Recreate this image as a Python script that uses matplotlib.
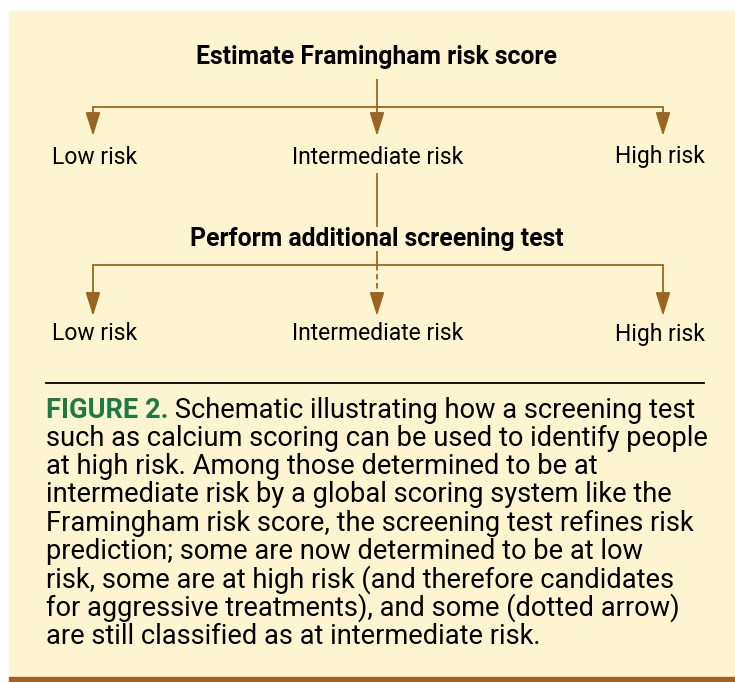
import matplotlib
matplotlib.use("Agg")
import matplotlib.pyplot as plt
from matplotlib.patches import Rectangle

# ===== diagram content
step_titles = ["Estimate Framingham risk score", "Perform additional screening test"]
risk_labels = ["Low risk", "Intermediate risk", "High risk"]
dotted_branch = [False, True, False]   # second stage: middle arrow is dotted

caption_head = "FIGURE 2."
caption_lines = [
    "Schematic illustrating how a screening test",
    "such as calcium scoring can be used to identify people",
    "at high risk. Among those determined to be at",
    "intermediate risk by a global scoring system like the",
    "Framingham risk score, the screening test refines risk",
    "prediction; some are now determined to be at low",
    "risk, some are at high risk (and therefore candidates",
    "for aggressive treatments), and some (dotted arrow)",
    "are still classified as at intermediate risk.",
]

# ===== style
bg = "#fdf5cf"
brown = "#9a6522"
green = "#1d7a45"
plt.rcParams["font.family"] = ["Roboto", "DejaVu Sans"]
fs_label = 16.5
fs_title = 17.8
fs_cap = 19.6

W, H = 735, 682
fig = plt.figure(figsize=(W / 100, H / 100), dpi=100)
ax = fig.add_axes([0, 0, 1, 1])
ax.set_xlim(0, W)
ax.set_ylim(H, 0)
ax.axis("off")

# panel and bottom bar
ax.add_patch(Rectangle((9, 11), W - 9, H - 11, color=bg, zorder=0))
ax.add_patch(Rectangle((9, 677), W - 9, 5, color=brown, zorder=1))

branch_x = [93, 377, 663]
label_x = [95, 378, 660]
centre = 377


def arrow(x, y0, y1, dashed=False):
    # shaft drawn as a line, head as a separate solid arrow
    ax.plot([x, x], [y0, y1 - 8], color=brown, lw=1.3,
            ls=(0, (3, 2)) if dashed else "-", solid_capstyle="butt")
    ax.annotate("", xy=(x, y1), xytext=(x, y1 - 14),
                arrowprops=dict(arrowstyle="-|>,head_length=0.9,head_width=0.28",
                                color=brown, lw=1.3, mutation_scale=16,
                                shrinkA=0, shrinkB=0))


def stage(title, y_title, y_bar, y_head, y_label, dashed_list, line_top):
    ax.text(centre, y_title, title, ha="center", va="center",
            fontsize=fs_title, fontweight="bold", color="black")
    ax.plot([centre, centre], line_top, color=brown, lw=1.3)
    ax.plot([branch_x[0], branch_x[-1]], [y_bar, y_bar], color=brown, lw=1.3)
    for x, lx, lab, dsh in zip(branch_x, label_x, risk_labels, dashed_list):
        arrow(x, y_bar, y_head, dsh)
        ax.text(lx, y_label, lab, ha="center", va="center",
                fontsize=fs_label, color="black")


stage(step_titles[0], 57, 107, 136, 157, [False] * 3, [80, 107])
# line from intermediate risk down to second stage (broken by the title)
ax.plot([centre, centre], [174, 226], color=brown, lw=1.3)
stage(step_titles[1], 239, 265, 316, 334, dotted_branch, [252, 265])

# rule above caption
ax.plot([46, 704], [383, 383], color="black", lw=1.3)

# caption
y0, dy = 410, 28.3
head = ax.text(46, y0, caption_head, ha="left", va="center",
               fontsize=fs_cap, fontweight="bold", color=green)
ax.annotate(" " + caption_lines[0], xy=(1, 0.5), xycoords=head,
            ha="left", va="center", fontsize=fs_cap, color="black")
for i, line in enumerate(caption_lines[1:], start=1):
    ax.text(46, y0 + i * dy, line, ha="left", va="center",
            fontsize=fs_cap, color="black")

fig.savefig("out.png", dpi=100, facecolor="white")
